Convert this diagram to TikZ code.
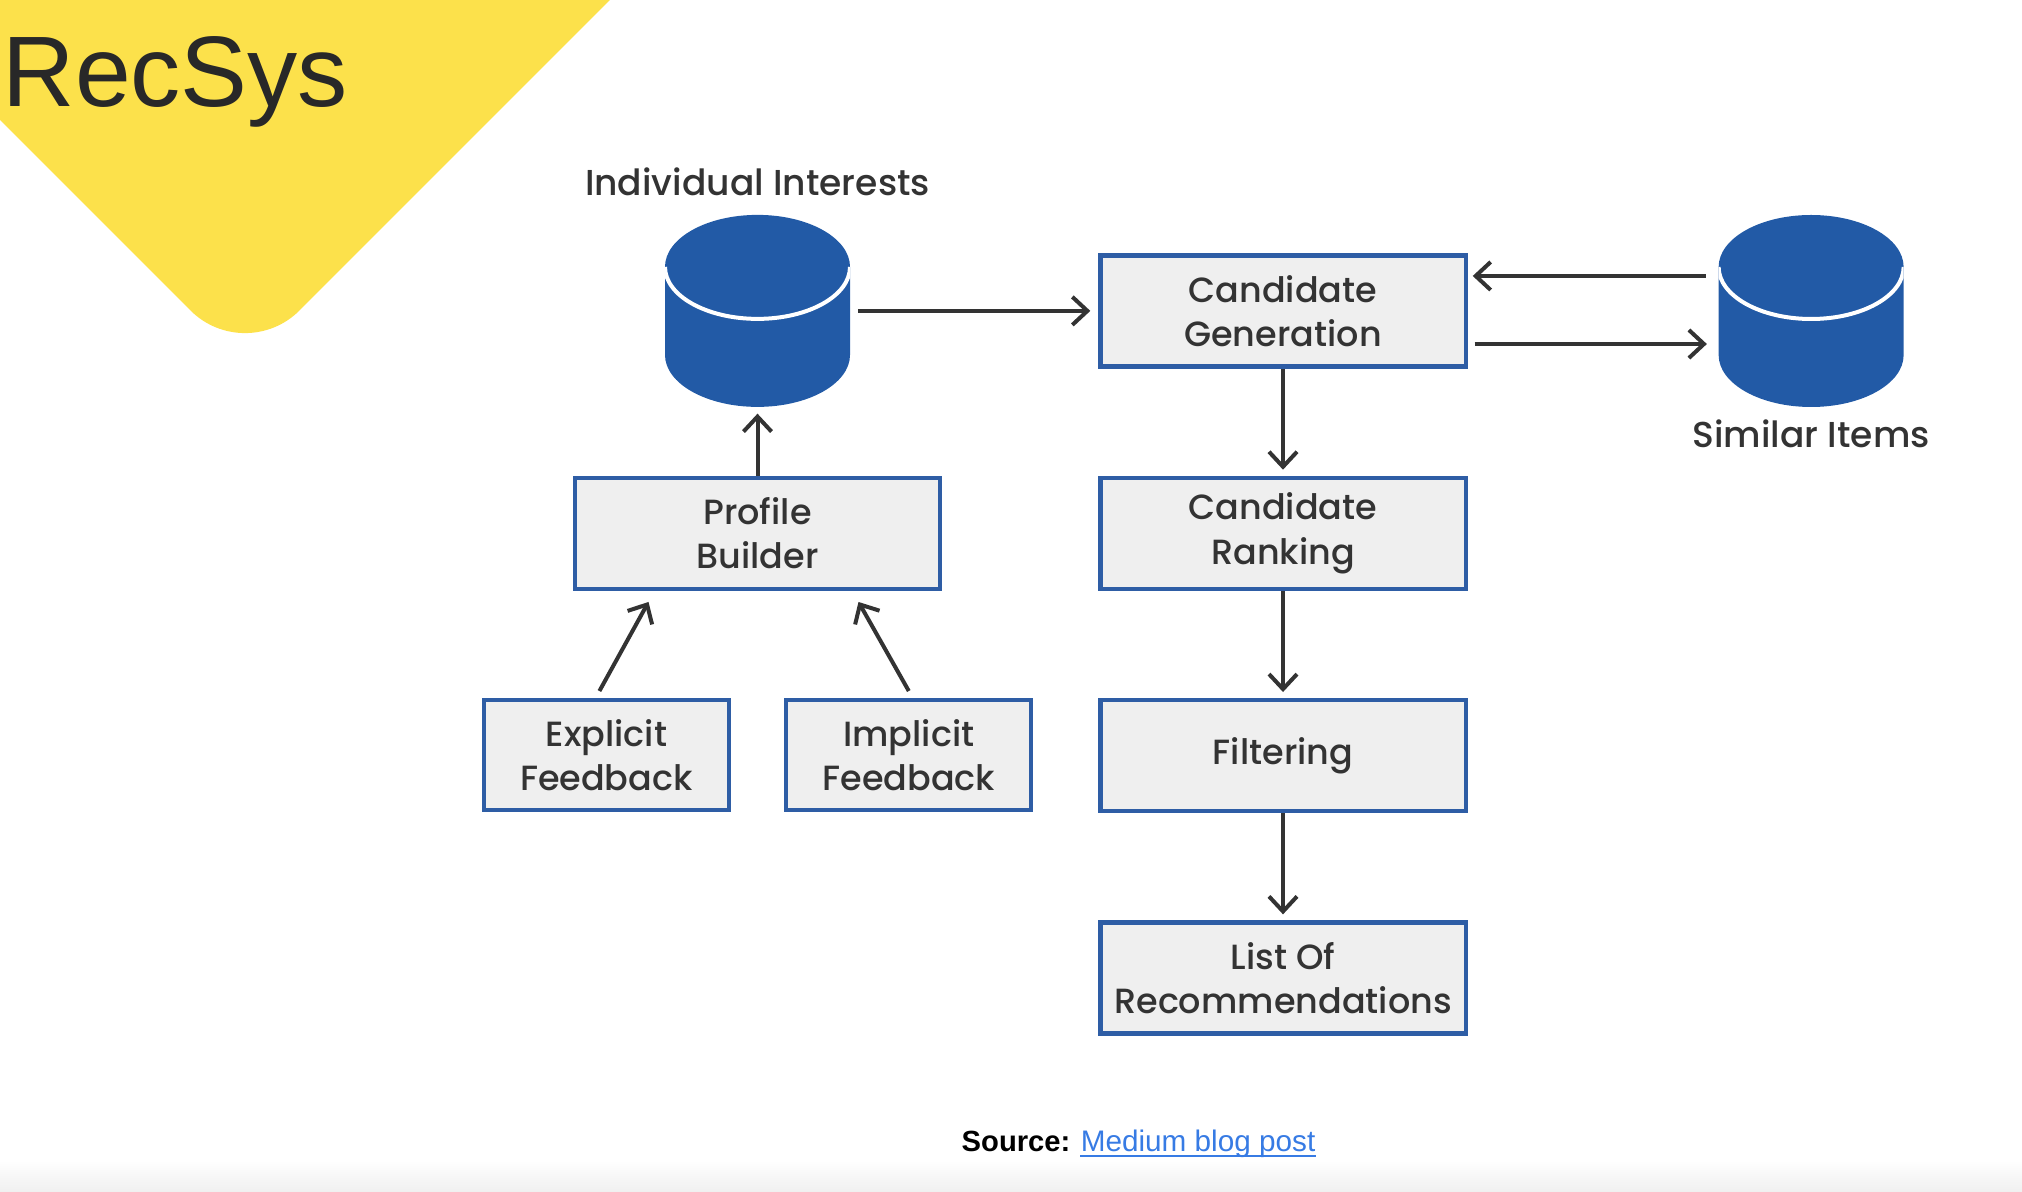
\documentclass[tikz,border=0pt]{standalone}
\usepackage{fontspec}
\setmainfont{Liberation Sans}
\newfontfamily\boxfont{Poppins Medium}
\usepackage{tikz}
\usetikzlibrary{shapes,arrows.meta,positioning,calc}
\definecolor{recyellow}{RGB}{252,225,75}
\definecolor{recblue}{RGB}{34,90,166}
\definecolor{boxblue}{RGB}{46,93,165}
\definecolor{boxgray}{RGB}{239,239,239}
\definecolor{inkgray}{RGB}{51,51,51}
\definecolor{titlegray}{RGB}{40,40,40}
\definecolor{linkblue}{RGB}{55,123,228}

\begin{document}
\begin{tikzpicture}[x=0.01cm, y=-0.01cm, node distance=1.07cm]
\tikzstyle{b} = [rectangle, draw=boxblue, line width=0.042cm, fill=boxgray, text=inkgray, align=center, inner sep=0pt, minimum width=3.65cm, minimum height=1.11cm, font=\boxfont\fontsize{9.95}{12.6}\selectfont]
\tikzstyle{fb} = [b, minimum width=2.45cm, minimum height=1.10cm]
\tikzstyle{db} = [rectangle, minimum width=1.85cm, minimum height=1.92cm, inner sep=0pt, path picture={
  \path (path picture bounding box.center) coordinate (c);
  \fill[recblue] ([shift={(-92.5,-44)}]c) -- ([shift={(-92.5,44)}]c) arc[start angle=180, end angle=0, x radius=92.5, y radius=52]
    -- ([shift={(92.5,-44)}]c) arc[start angle=0, end angle=-180, x radius=92.5, y radius=52] -- cycle;
  \draw[white, line width=0.04cm] ([shift={(-92.5,-44)}]c) arc[start angle=180, end angle=0, x radius=92.5, y radius=52];
}]
\tikzstyle{lbl} = [text=inkgray, inner sep=0pt, font=\boxfont\fontsize{10.25}{12.2}\selectfont]
\tikzstyle{a} = [-{Straight Barb[length=1.5mm, width=2.8mm]}, line width=0.04cm, inkgray]
\useasboundingbox (0,0) rectangle (2022,1192);
% corner banner
\fill[recyellow] (0,120) [rounded corners=0.77cm] -- (245,365) [sharp corners] -- (610,0) -- (0,0) -- cycle;
\shade[top color=white, bottom color=black!6] (0,1160) rectangle (2022,1192);
\node[anchor=base west, inner sep=0pt, text=titlegray, font=\fontsize{28.5}{30}\selectfont] (title) at (2,107) {RecSys};

% pipeline
\node[b] (gen) at (1283,311) {Candidate\\Generation};
\node[b, below=of gen] (rank) {Candidate\\Ranking};
\node[b, below=of rank] (filt) {Filtering};
\node[b, below=of filt] (list) {List Of\\Recommendations};

% profile side
\node[b, left=1.56cm of rank] (prof) {Profile\\Builder};
\node[db, above=0.68cm of prof] (ii) {};
\node[lbl, above=0.18cm of ii] (iilbl) {Individual Interests};
\node[fb, below=of prof, xshift=-1.51cm] (expl) {Explicit\\Feedback};
\node[fb, right=0.53cm of expl] (impl) {Implicit\\Feedback};

% item store
\node[db, right=2.5cm of gen] (sim) {};
\node[lbl, below=0.11cm of sim] (simlbl) {Similar Items};

\draw[a, shorten <=0.07cm, shorten >=0.08cm] (ii.east) -- (ii.east -| gen.west);
\draw[a, shorten <=0.12cm, shorten >=0.05cm] ([yshift=0.35cm]sim.west) -- ([yshift=0.35cm]sim.west -| gen.east);
\draw[a, shorten <=0.07cm, shorten >=0.11cm] ([yshift=-0.33cm]gen.east) -- ([yshift=-0.33cm]gen.east -| sim.west);
\draw[a, shorten >=0.06cm] (gen) -- (rank);
\draw[a, shorten >=0.06cm] (rank) -- (filt);
\draw[a, shorten >=0.06cm] (filt) -- (list);
\draw[a, shorten >=0.06cm] (prof) -- (ii);
\draw[a] ([shift={(-7,-7)}]expl.north) -- ([shift={(-109,11)}]prof.south);
\draw[a] ([shift={(0,-7)}]impl.north) -- ([shift={(101,11)}]prof.south);

% source line
\node[anchor=base west, inner sep=0pt, font=\bfseries\fontsize{8.3}{10}\selectfont] (src) at (961,1151) {Source:};
\node[anchor=base west, inner sep=0pt, text=linkblue, font=\fontsize{8.45}{10}\selectfont] (link) at ([xshift=0.09cm]src.base east) {Medium blog post};
\draw[linkblue, line width=0.02cm] ([yshift=-0.05cm]link.base west) -- ([yshift=-0.05cm]link.base east);
\end{tikzpicture}
\end{document}
